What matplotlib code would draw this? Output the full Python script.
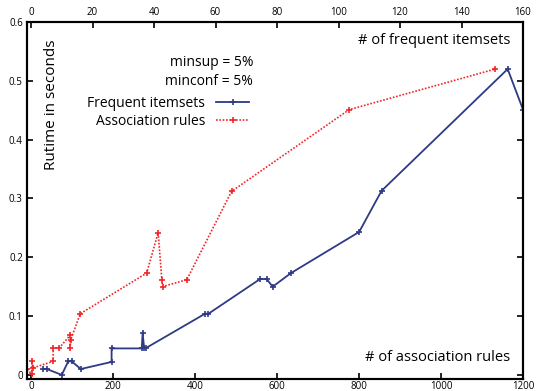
import matplotlib
matplotlib.use("Agg")
from matplotlib import pyplot as plt

plt.rcParams['font.family'] = ['Open Sans', 'DejaVu Sans']

# association rules (bottom axis) vs runtime
rules_x = [-9, 2, 2, 5, 54, 54, 69, 96, 95, 97, 120, 282, 310, 319, 321, 380, 489, 776, 1132]
rules_y = [0.010, 0.001, 0.023, 0.012, 0.023, 0.046, 0.046, 0.068, 0.046, 0.060, 0.104,
           0.173, 0.242, 0.162, 0.150, 0.162, 0.312, 0.451, 0.520]

# frequent itemsets (top axis) vs runtime
items_x = [4.0, 5.1, 10.0, 12.1, 13.2, 16.2, 26.2, 26.2, 36.0, 36.3, 36.8, 37.5,
           56.6, 57.7, 74.5, 76.6, 78.6, 84.5, 106.7, 114.0, 155.0, 160.0]
items_y = [0.010, 0.010, 0.000, 0.023, 0.023, 0.010, 0.022, 0.045, 0.045, 0.071, 0.045, 0.046,
           0.104, 0.104, 0.163, 0.163, 0.150, 0.173, 0.243, 0.313, 0.520, 0.451]

bottom_ticks = [0, 200, 400, 600, 800, 1000, 1200]
top_ticks = [0, 20, 40, 60, 80, 100, 120, 140, 160]
y_ticks = [0, 0.1, 0.2, 0.3, 0.4, 0.5, 0.6]
y_labels = ['0', '0.1', '0.2', '0.3', '0.4', '0.5', '0.6']

blue = '#2e3a84'
red = '#f0262a'

fig = plt.figure(figsize=(5.36, 3.91), dpi=100)
ax = fig.add_axes([0.0504, 0.0307, 0.9254, 0.913])
ax2 = ax.twiny()

l2, = ax.plot(rules_x, rules_y, color=red, linestyle=(0, (1, 1)), linewidth=1.2,
              marker='+', markersize=5, markeredgewidth=1.2, label='Association rules')
l1, = ax2.plot(items_x, items_y, color=blue, linestyle='-', linewidth=1.3,
               marker='+', markersize=5, markeredgewidth=1.2, label='Frequent itemsets')

ax.set_xlim(-9.8, 1200)
ax2.set_xlim(-1.3, 160)
ax.set_ylim(-0.007, 0.6)

ax.set_xticks(bottom_ticks)
ax2.set_xticks(top_ticks)
ax.set_yticks(y_ticks)
ax.set_yticklabels(y_labels)

ax.tick_params(axis='x', direction='in', length=4, width=1.2, labelsize=7, pad=1.5)
ax.tick_params(axis='y', direction='in', length=4, width=1.2, labelsize=7, pad=3,
               right=True)
ax2.tick_params(axis='x', direction='in', length=4, width=1.2, labelsize=7, pad=3)

for a in (ax, ax2):
    for s in a.spines.values():
        s.set_linewidth(1.5)
        s.set_color('black')

ax.text(0.05, 0.767, 'Rutime in seconds', transform=ax.transAxes, rotation=90,
        ha='center', va='center', fontsize=11)
ax.text(0.974, 0.948, '# of frequent itemsets', transform=ax.transAxes,
        ha='right', va='center', fontsize=10.5)
ax.text(0.974, 0.06, '# of association rules', transform=ax.transAxes,
        ha='right', va='center', fontsize=10.5)
ax.text(0.456, 0.886, 'minsup = 5%', transform=ax.transAxes,
        ha='right', va='center', fontsize=10)
ax.text(0.456, 0.832, 'minconf = 5%', transform=ax.transAxes,
        ha='right', va='center', fontsize=10)

ax.legend(handles=[l1, l2], loc='upper right', bbox_to_anchor=(0.468, 0.82),
          frameon=False, markerfirst=False, fontsize=10, handlelength=2.4,
          handletextpad=0.8, labelspacing=0.2, borderpad=0.2)

fig.savefig('out.png', dpi=100)
